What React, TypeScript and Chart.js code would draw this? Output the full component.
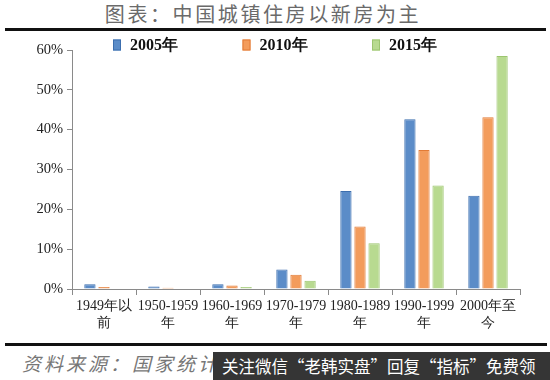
import React, { useEffect, useRef } from "react";
import { Chart, registerables } from "chart.js";

Chart.register(...registerables);

const categories: string[][] = [
  ["1949年以", "前"],
  ["1950-1959", "年"],
  ["1960-1969", "年"],
  ["1970-1979", "年"],
  ["1980-1989", "年"],
  ["1990-1999", "年"],
  ["2000年至", "今"],
];
const seriesNames = ["2005年", "2010年", "2015年"];
const values2005 = [1.2, 0.6, 1.2, 4.9, 24.6, 42.6, 23.4];
const values2010 = [0.5, 0.3, 0.9, 3.6, 15.7, 34.9, 43.1];
const values2015 = [0.1, 0.1, 0.5, 2.1, 11.5, 26.0, 58.5];
const yTicks = [0, 10, 20, 30, 40, 50, 60];

const fills = ["#5b8cc8", "#f39c5c", "#b8da90"];
const borders = ["#3c6eae", "#e27b36", "#9cc56f"];

const serif = "\"Times New Roman\", \"Liberation Serif\", serif";

const legendPlugin = {
  id: "customLegend",
  afterDraw(chart: any) {
    const ctx = chart.ctx;
    const area = chart.chartArea;
    ctx.save();
    chart.data.datasets.forEach((ds: any, i: number) => {
      const x = area.left + 41 + i * 129.5;
      const y = area.top - 5;
      ctx.fillStyle = ds.backgroundColor;
      ctx.fillRect(x, y - 5.5, 8, 11);
      ctx.strokeStyle = ds.borderColor;
      ctx.lineWidth = 1;
      ctx.strokeRect(x + 0.5, y - 5, 7, 10);
      ctx.fillStyle = "#111";
      ctx.font = `bold 16px ${serif}`;
      ctx.textBaseline = "middle";
      ctx.textAlign = "left";
      ctx.fillText(ds.label, x + 17, y + 1);
    });
    ctx.restore();
  },
};

export default function App() {
  const ref = useRef<HTMLCanvasElement>(null);
  useEffect(() => {
    if (!ref.current) return;
    const data = [values2005, values2010, values2015];
    const chart = new Chart(ref.current, {
      type: "bar",
      data: {
        labels: categories,
        datasets: seriesNames.map((name, i) => ({
          label: name,
          data: data[i],
          backgroundColor: fills[i],
          borderColor: borders[i],
          borderWidth: 1,
          categoryPercentage: 0.66,
          barPercentage: 0.8,
        })),
      },
      options: {
        animation: false,
        responsive: false,
        maintainAspectRatio: false,
        layout: { padding: { left: 0, right: 30, top: 15, bottom: 0 } },
        plugins: { legend: { display: false }, tooltip: { enabled: false } },
        scales: {
          x: {
            grid: {
              offset: true,
              drawOnChartArea: false,
              drawTicks: true,
              tickLength: 6,
              color: "#8a8a8a",
            },
            border: { color: "#8a8a8a", width: 1 },
            ticks: {
              color: "#222",
              font: { family: serif, size: 14 },
              padding: 3,
              maxRotation: 0,
              autoSkip: false,
            },
            afterFit(scale: any) {
              scale.height = 51;
            },
          },
          y: {
            min: 0,
            max: 60,
            afterBuildTicks(scale: any) {
              scale.ticks = yTicks.map((v) => ({ value: v }));
            },
            grid: {
              drawOnChartArea: false,
              drawTicks: true,
              tickLength: 5,
              color: "#8a8a8a",
            },
            border: { color: "#8a8a8a", width: 1 },
            ticks: {
              color: "#222",
              font: { family: serif, size: 14.5 },
              padding: 4,
              callback: (v: any) => `${v}%`,
            },
            afterFit(scale: any) {
              scale.width = 72;
            },
          },
        },
      },
      plugins: [legendPlugin],
    });
    return () => chart.destroy();
  }, []);

  return (
    <div style={{ position: "absolute", left: 0, top: 0, width: 550, height: 380, background: "#fff", overflow: "hidden" }}>
      <div
        style={{
          position: "absolute",
          left: 0,
          top: 1,
          width: 526,
          textAlign: "center",
          fontFamily: "'Noto Sans CJK SC', sans-serif",
          fontSize: 20,
          letterSpacing: 2.6,
          color: "#6a6a6a",
          lineHeight: "26px",
        }}
      >
        图表：中国城镇住房以新房为主
      </div>
      <div style={{ position: "absolute", left: 5, top: 28, width: 541, height: 3, background: "#111" }} />
      <canvas
        ref={ref}
        width={550}
        height={305}
        style={{ position: "absolute", left: 0, top: 35, width: 550, height: 305 }}
      />
      <div style={{ position: "absolute", left: 5, top: 343, width: 542, height: 3, background: "#111" }} />
      <div
        style={{
          position: "absolute",
          left: 22,
          top: 349,
          fontFamily: "'Noto Sans CJK SC', sans-serif",
          fontStyle: "italic",
          fontSize: 19,
          letterSpacing: 3,
          color: "#777",
          lineHeight: "28px",
          whiteSpace: "nowrap",
        }}
      >
        资料来源：国家统计局，恒大研究院
      </div>
      <div
        style={{
          position: "absolute",
          left: 213,
          top: 352,
          width: 337,
          height: 28,
          background: "#353535",
          color: "#fff",
          fontFamily: "'Noto Sans CJK SC', sans-serif",
          fontSize: 16.5,
          lineHeight: "28px",
          paddingLeft: 9,
          boxSizing: "border-box",
          whiteSpace: "nowrap",
        }}
      >
        关注微信“老韩实盘”回复“指标”免费领
      </div>
    </div>
  );
}
